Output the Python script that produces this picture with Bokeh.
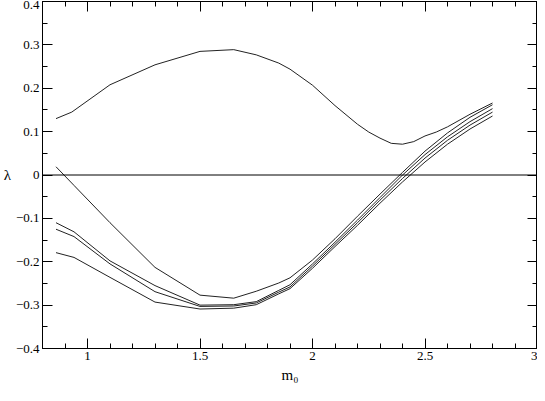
from bokeh.plotting import figure
from bokeh.models import (LinearAxis, FixedTicker, CustomJSTickFormatter, Span, Range1d)
from bokeh.embed import file_html
from bokeh.resources import INLINE

# ---- data ----
upper_m0 = [0.86, 0.93, 1.1, 1.3, 1.5, 1.65, 1.75, 1.85, 1.9, 2.0, 2.1, 2.2, 2.25, 2.3, 2.35, 2.4, 2.45, 2.5, 2.55, 2.6, 2.7, 2.8]
upper_lam = [0.130, 0.145, 0.208, 0.254, 0.285, 0.289, 0.277, 0.258, 0.244, 0.207, 0.160, 0.117, 0.099, 0.085, 0.073, 0.071, 0.077, 0.090, 0.099, 0.111, 0.140, 0.166]

low_m0 = [0.86, 0.94, 1.1, 1.3, 1.5, 1.65, 1.75, 1.85, 1.9, 2.0, 2.1, 2.2, 2.3, 2.4, 2.5, 2.6, 2.7, 2.8]
lam_1 = [0.019, -0.024, -0.110, -0.213, -0.277, -0.284, -0.268, -0.249, -0.237, -0.196, -0.147, -0.095, -0.044, 0.006, 0.055, 0.097, 0.133, 0.162]
lam_2 = [-0.110, -0.131, -0.198, -0.255, -0.300, -0.299, -0.292, -0.266, -0.253, -0.205, -0.155, -0.104, -0.052, 0.000, 0.047, 0.088, 0.123, 0.153]
lam_3 = [-0.125, -0.142, -0.205, -0.269, -0.303, -0.302, -0.295, -0.270, -0.258, -0.210, -0.160, -0.110, -0.058, -0.008, 0.039, 0.080, 0.115, 0.145]
lam_4 = [-0.179, -0.190, -0.236, -0.293, -0.309, -0.307, -0.299, -0.274, -0.262, -0.215, -0.165, -0.116, -0.065, -0.016, 0.030, 0.071, 0.106, 0.136]

x_ticks = [1, 1.5, 2, 2.5, 3]
x_minor = [0.8, 0.9, 1.1, 1.2, 1.3, 1.4, 1.6, 1.7, 1.8, 1.9, 2.1, 2.2, 2.3, 2.4, 2.6, 2.7, 2.8, 2.9]
y_ticks = [-0.4, -0.3, -0.2, -0.1, 0, 0.1, 0.2, 0.3, 0.4]
y_minor = [-0.35, -0.25, -0.15, -0.05, 0.05, 0.15, 0.25, 0.35]

FONT = "'Liberation Serif'"

p = figure(width=537, height=385, output_backend="svg", toolbar_location=None,
           x_range=Range1d(0.8, 3.0), y_range=Range1d(-0.4, 0.4),
           x_axis_type=None, y_axis_type=None,
           min_border_left=30, min_border_right=0, min_border_top=1, min_border_bottom=30)
p.outline_line_color = "black"
p.outline_line_width = 1
p.grid.visible = False
p.background_fill_color = "white"
p.border_fill_color = "white"

xfmt = CustomJSTickFormatter(code="return String(Math.round(tick*10)/10);")
yfmt = CustomJSTickFormatter(code="if (Math.abs(tick) < 1e-9) return '0'; return tick.toFixed(1).replace('-', '\u2212');")
nofmt = CustomJSTickFormatter(code="return '';")

def style(ax, labels):
    ax.axis_line_color = "black"
    ax.major_tick_in = 10
    ax.major_tick_out = 0
    ax.minor_tick_in = 5
    ax.minor_tick_out = 0
    ax.major_tick_line_color = "black"
    ax.minor_tick_line_color = "black"
    if labels:
        ax.major_label_text_font = FONT
        ax.major_label_text_font_size = "13px"
        ax.major_label_text_color = "black"
        ax.major_label_standoff = 3
        ax.axis_label_text_font = FONT
        ax.axis_label_text_font_style = "normal"
        ax.axis_label_text_color = "black"
    else:
        ax.major_label_standoff = 0

bx = LinearAxis(ticker=FixedTicker(ticks=x_ticks, minor_ticks=x_minor), formatter=xfmt,
                axis_label="m₀")
tx = LinearAxis(ticker=FixedTicker(ticks=x_ticks, minor_ticks=x_minor), formatter=nofmt)
ly = LinearAxis(ticker=FixedTicker(ticks=y_ticks, minor_ticks=y_minor), formatter=yfmt,
                axis_label="λ")
ry = LinearAxis(ticker=FixedTicker(ticks=y_ticks, minor_ticks=y_minor), formatter=nofmt)
style(bx, True); style(ly, True); style(tx, False); style(ry, False)
bx.axis_label_text_font_size = "15px"
bx.axis_label_standoff = 4
ly.axis_label_text_font_size = "15px"
ly.axis_label_standoff = 2
try:
    ly.axis_label_orientation = "horizontal"
except Exception:
    pass
p.add_layout(bx, "below")
p.add_layout(ly, "left")
p.add_layout(tx, "above")
p.add_layout(ry, "right")

p.add_layout(Span(location=0, dimension="width", line_color="black", line_width=1))

for lam in (lam_1, lam_2, lam_3, lam_4):
    p.line(low_m0, lam, line_color="#222222", line_width=1)
p.line(upper_m0, upper_lam, line_color="#222222", line_width=1)

open("out.html", "w").write(file_html(p, INLINE))
